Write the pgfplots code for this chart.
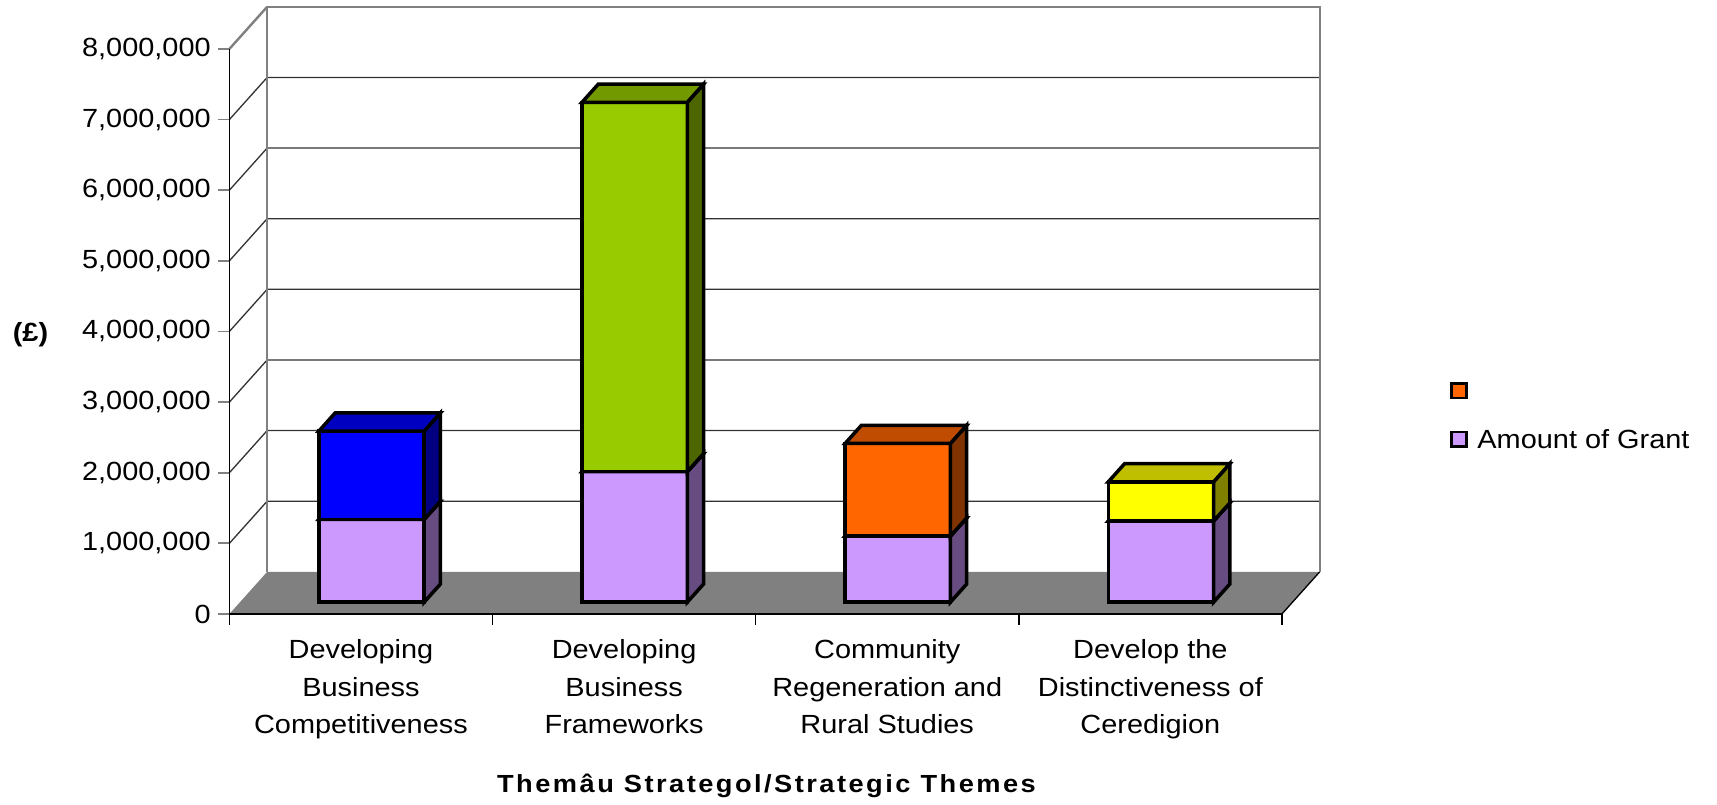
\documentclass[border=0pt]{standalone}
\usepackage{fontspec}
\setmainfont{Liberation Sans}[FakeStretch=1.1]
\newfontfamily\titlefont{Liberation Sans}[FakeStretch=1.1,LetterSpace=10]
\usepackage{pgfplots}
\usepackage{pgfplotstable}
\pgfplotsset{compat=1.18}

\definecolor{grantF}{HTML}{CC99FF}
\definecolor{grantS}{HTML}{664C80}
\definecolor{grantT}{HTML}{9973BF}
\definecolor{oth0F}{HTML}{0000FF}
\definecolor{oth0S}{HTML}{000080}
\definecolor{oth0T}{HTML}{0000C0}
\definecolor{oth1F}{HTML}{99CC00}
\definecolor{oth1S}{HTML}{4D6600}
\definecolor{oth1T}{HTML}{739900}
\definecolor{oth2F}{HTML}{FF6600}
\definecolor{oth2S}{HTML}{803300}
\definecolor{oth2T}{HTML}{BF4C00}
\definecolor{oth3F}{HTML}{FFFF00}
\definecolor{oth3S}{HTML}{808000}
\definecolor{oth3T}{HTML}{BFBF00}
\definecolor{floorgray}{HTML}{808080}

% values in millions of pounds
\pgfplotstableread{
x   grant  other
0.5 1.172  1.251
1.5 1.847  5.231
2.5 0.936  1.312
3.5 1.149  0.555
}\bardata

% oblique depth of the floor (axis units)
\def\Dx{0.1436}
\def\Dy{0.5969}
% bars sit between these depth fractions
\def\dF{0.28}
\def\dB{0.71}
\def\hw{0.2}

\tikzset{barline/.style={draw=black, line width=1.6pt, line join=miter}}

% one box: centre, bottom, top, front/side/top colours
\newcommand\cuboid[6]{%
  \pgfmathsetmacro\cbXl{#1-\hw+\dF*\Dx}%
  \pgfmathsetmacro\cbXr{#1+\hw+\dF*\Dx}%
  \pgfmathsetmacro\cbXlb{#1-\hw+\dB*\Dx}%
  \pgfmathsetmacro\cbXrb{#1+\hw+\dB*\Dx}%
  \pgfmathsetmacro\cbYa{#2+\dF*\Dy}%
  \pgfmathsetmacro\cbYb{#3+\dF*\Dy}%
  \pgfmathsetmacro\cbYab{#2+\dB*\Dy}%
  \pgfmathsetmacro\cbYbb{#3+\dB*\Dy}%
  \addplot[forget plot, fill=#4, barline] coordinates {(\cbXl,\cbYa) (\cbXr,\cbYa) (\cbXr,\cbYb) (\cbXl,\cbYb)} -- cycle;
  \addplot[forget plot, fill=#5, barline] coordinates {(\cbXr,\cbYa) (\cbXrb,\cbYab) (\cbXrb,\cbYbb) (\cbXr,\cbYb)} -- cycle;
  \addplot[forget plot, fill=#6, barline] coordinates {(\cbXl,\cbYb) (\cbXr,\cbYb) (\cbXrb,\cbYbb) (\cbXlb,\cbYbb)} -- cycle;
}

\begin{document}
\begin{tikzpicture}
\begin{axis}[
    x=120.15pt, y=32.25pt,
    xmin=0, xmax=4.1436,
    ymin=0, ymax=8.598,
    clip=false,
    axis line style={draw=none},
    tick align=outside,
    major tick length=5pt,
    xtick pos=bottom, ytick pos=left,
    xtick={0,1,2,3,4},
    xticklabels={,,,,},
    extra x ticks={0.5,1.5,2.5,3.5},
    extra x tick labels={{Developing\\Business\\Competitiveness},{Developing\\Business\\Frameworks},{Community\\Regeneration and\\Rural Studies},{Develop the\\Distinctiveness of\\Ceredigion}},
    extra x tick style={major tick length=0pt},
    xticklabel style={align=center, yshift=-8pt, font=\fontsize{12}{17.25}\selectfont},
    xtick style={draw=black, line width=0.7pt},
    ytick={0,1,2,3,4,5,6,7,8},
    yticklabels={0,{1,000,000},{2,000,000},{3,000,000},{4,000,000},{5,000,000},{6,000,000},{7,000,000},{8,000,000}},
    yticklabel style={font=\fontsize{12}{14}\selectfont},
    ytick style={draw=black!50, line width=0.8pt},
    xlabel={Themâu Strategol/Strategic Themes},
    xlabel style={at={(axis description cs:0.4926,-0.2932)}, anchor=base, font=\titlefont\bfseries\fontsize{11.3}{13}\selectfont},
    ylabel={(£)},
    ylabel style={at={(axis description cs:-0.1824,0.46)}, anchor=center, rotate=-90, font=\bfseries\fontsize{12}{14}\selectfont},
    legend cell align=left,
    legend style={at={(axis cs:4.638,2.817)}, anchor=west, draw=none, fill=none,
        inner sep=0pt, column sep=4.5pt, row sep=13.4pt,
        nodes={inner sep=0pt, text height=8.6pt, text depth=0pt},
        font=\fontsize{12}{14}\selectfont},
]
% picture frame
\path (axis cs:-0.8718,-2.620) rectangle (axis cs:5.6534,8.693);

% floor
\addplot[forget plot, fill=floorgray, draw=none] coordinates {(0,0) (4,0) (4.1436,0.5969) (0.1436,0.5969)} -- cycle;
\draw[black, line width=0.6pt] (axis cs:4,0) -- (axis cs:4.1436,0.5969);

% walls and grid
\pgfplotsinvokeforeach{1,...,7}{
  \draw[black!80, line width=0.6pt] (axis cs:0,#1) -- (axis cs:\Dx,{#1+\Dy}) -- (axis cs:{4+\Dx},{#1+\Dy});
}
\draw[black!50, line width=1.1pt] (axis cs:0,8) -- (axis cs:\Dx,{8+\Dy});
\draw[black!50, line width=1.1pt] (axis cs:\Dx,\Dy) -- (axis cs:\Dx,{8+\Dy}) -- (axis cs:{4+\Dx},{8+\Dy}) -- (axis cs:{4+\Dx},\Dy);
\draw[black, line width=0.7pt] (axis cs:0,0) -- (axis cs:0,8);
\draw[black, line width=0.7pt] (axis cs:0,0) -- (axis cs:4,0);

% bars
\pgfplotsinvokeforeach{0,...,3}{
  \pgfplotstablegetelem{#1}{x}\of\bardata \let\barX\pgfplotsretval
  \pgfplotstablegetelem{#1}{grant}\of\bardata \let\barG\pgfplotsretval
  \pgfplotstablegetelem{#1}{other}\of\bardata \let\barO\pgfplotsretval
  \pgfmathsetmacro\barT{\barG+\barO}
  \cuboid{\barX}{0}{\barG}{grantF}{grantS}{grantT}
  \cuboid{\barX}{\barG}{\barT}{oth#1F}{oth#1S}{oth#1T}
}

% legend
\addlegendimage{legend image code/.code={\draw[fill=oth2F, draw=black, line width=1.1pt] (0pt,-3.3pt) rectangle (6.8pt,3.3pt);}}
\addlegendentry{\mbox{}}
\addlegendimage{legend image code/.code={\draw[fill=grantF, draw=black, line width=1.1pt] (0pt,-3.3pt) rectangle (6.8pt,3.3pt);}}
\addlegendentry{Amount of Grant}
\end{axis}
\end{tikzpicture}
\end{document}
